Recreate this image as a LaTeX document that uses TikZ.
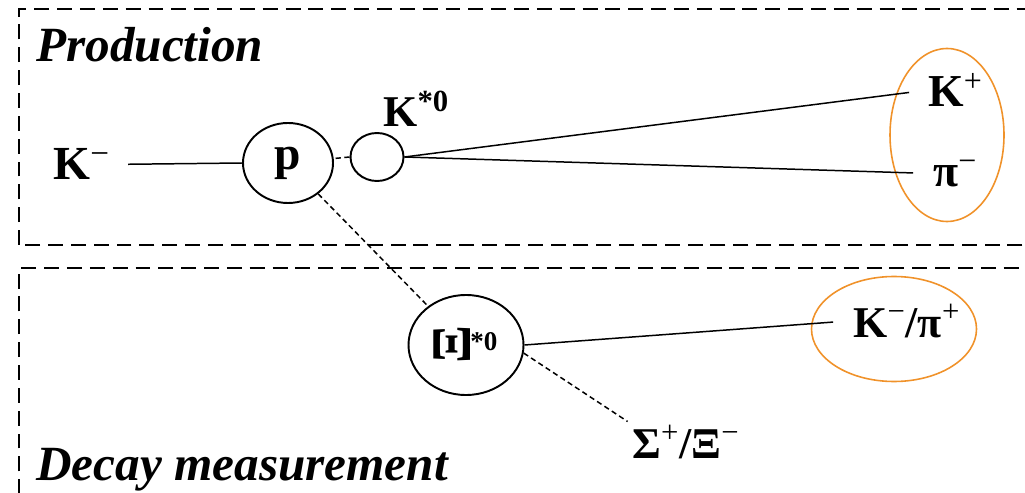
\documentclass[tikz,border=0pt]{standalone}
\usepackage{fontspec}
\setmainfont{Liberation Serif}
\usepackage{graphicx}
\usetikzlibrary{shapes.geometric}
\definecolor{ring-orange}{HTML}{F0922A}

\begin{document}
\begin{tikzpicture}[
      every node/.style={font=\bfseries},
      blob/.style={draw, ellipse, line width=1.1pt, inner sep=0pt},
      ring/.style={draw=ring-orange, ellipse, line width=0.9pt, inner sep=0pt},
      lbl/.style={inner sep=0pt, anchor=base west},
      region/.style={dash pattern=on 8.5pt off 4.5pt, line width=1.1pt},
      track/.style={line width=0.85pt},
      ghost/.style={dash pattern=on 3pt off 2pt, line width=0.85pt}]
    \useasboundingbox (0,0) rectangle (20.5,9.84);
    % the two stages
    \draw[region] (0.38,4.94) rectangle (21,9.66);
    \draw[region] (0.38,-0.5) rectangle (21,4.48);
    \node[lbl, font=\fontsize{28}{32}\selectfont\bfseries\itshape] (prod) at (0.72,8.6) {Production};
    \node[lbl, font=\fontsize{28}{32}\selectfont\bfseries\itshape] (decay) at (0.72,0.24) {Decay measurement};
    % production
    \node[lbl, font=\fontsize{27}{31}\selectfont\bfseries] (km) at (1.06,6.24) {K\textsuperscript{\mdseries −}};
    \node[blob, minimum width=1.8cm, minimum height=1.6cm, font=\fontsize{27}{31}\selectfont\bfseries] (p) at (5.76,6.58) {p};
    \node[blob, minimum width=1.06cm, minimum height=0.96cm] (kstar) at (7.54,6.7) {};
    \node[lbl, font=\fontsize{25}{29}\selectfont\bfseries] (kstarlbl) at (7.66,7.3) {K\textsuperscript{*0}};
    \node[lbl, font=\fontsize{26}{30}\selectfont\bfseries] (kp) at (18.56,7.7) {K\textsuperscript{\mdseries +}};
    \node[lbl, font=\fontsize{26}{30}\selectfont\bfseries] (pim) at (18.66,6.1) {π\textsuperscript{\mdseries −}};
    \node[ring, minimum width=2.28cm, minimum height=3.46cm] (ring1) at (18.94,7.14) {};
    \draw[track, shorten <=0.36cm] (km.east) -- (p.west);
    \draw[ghost] (kstar.west) -- (p);
    \draw[track, shorten >=0.38cm] (kstar.east) -- (kp.west);
    \draw[track, shorten >=0.4cm] (kstar.east) -- (pim.west);
    % decay
    \node[blob, minimum width=2.3cm, minimum height=2cm, font=\fontsize{22}{26}\selectfont\bfseries] (xi) at (9.32,2.94) {\rotatebox{90}{\scalebox{1.45}{Ξ}}\textsuperscript{*0}};
    \node[lbl, font=\fontsize{25}{29}\selectfont\bfseries] (kpi) at (17.06,3.1) {K\textsuperscript{\mdseries −}/π\textsuperscript{\mdseries +}};
    \node[ring, minimum width=3.3cm, minimum height=2.1cm] (ring2) at (17.88,3.26) {};
    \node[lbl, font=\fontsize{25}{29}\selectfont\bfseries] (sx) at (12.64,0.68) {Σ\textsuperscript{\mdseries +}/Ξ\textsuperscript{\mdseries −}};
    \draw[ghost] (p) -- (xi);
    \draw[track, shorten >=0.4cm] (xi.east) -- (kpi.west);
    \draw[ghost, shorten >=3pt] (xi.-8) -- (sx.north west);
\end{tikzpicture}
\end{document}
